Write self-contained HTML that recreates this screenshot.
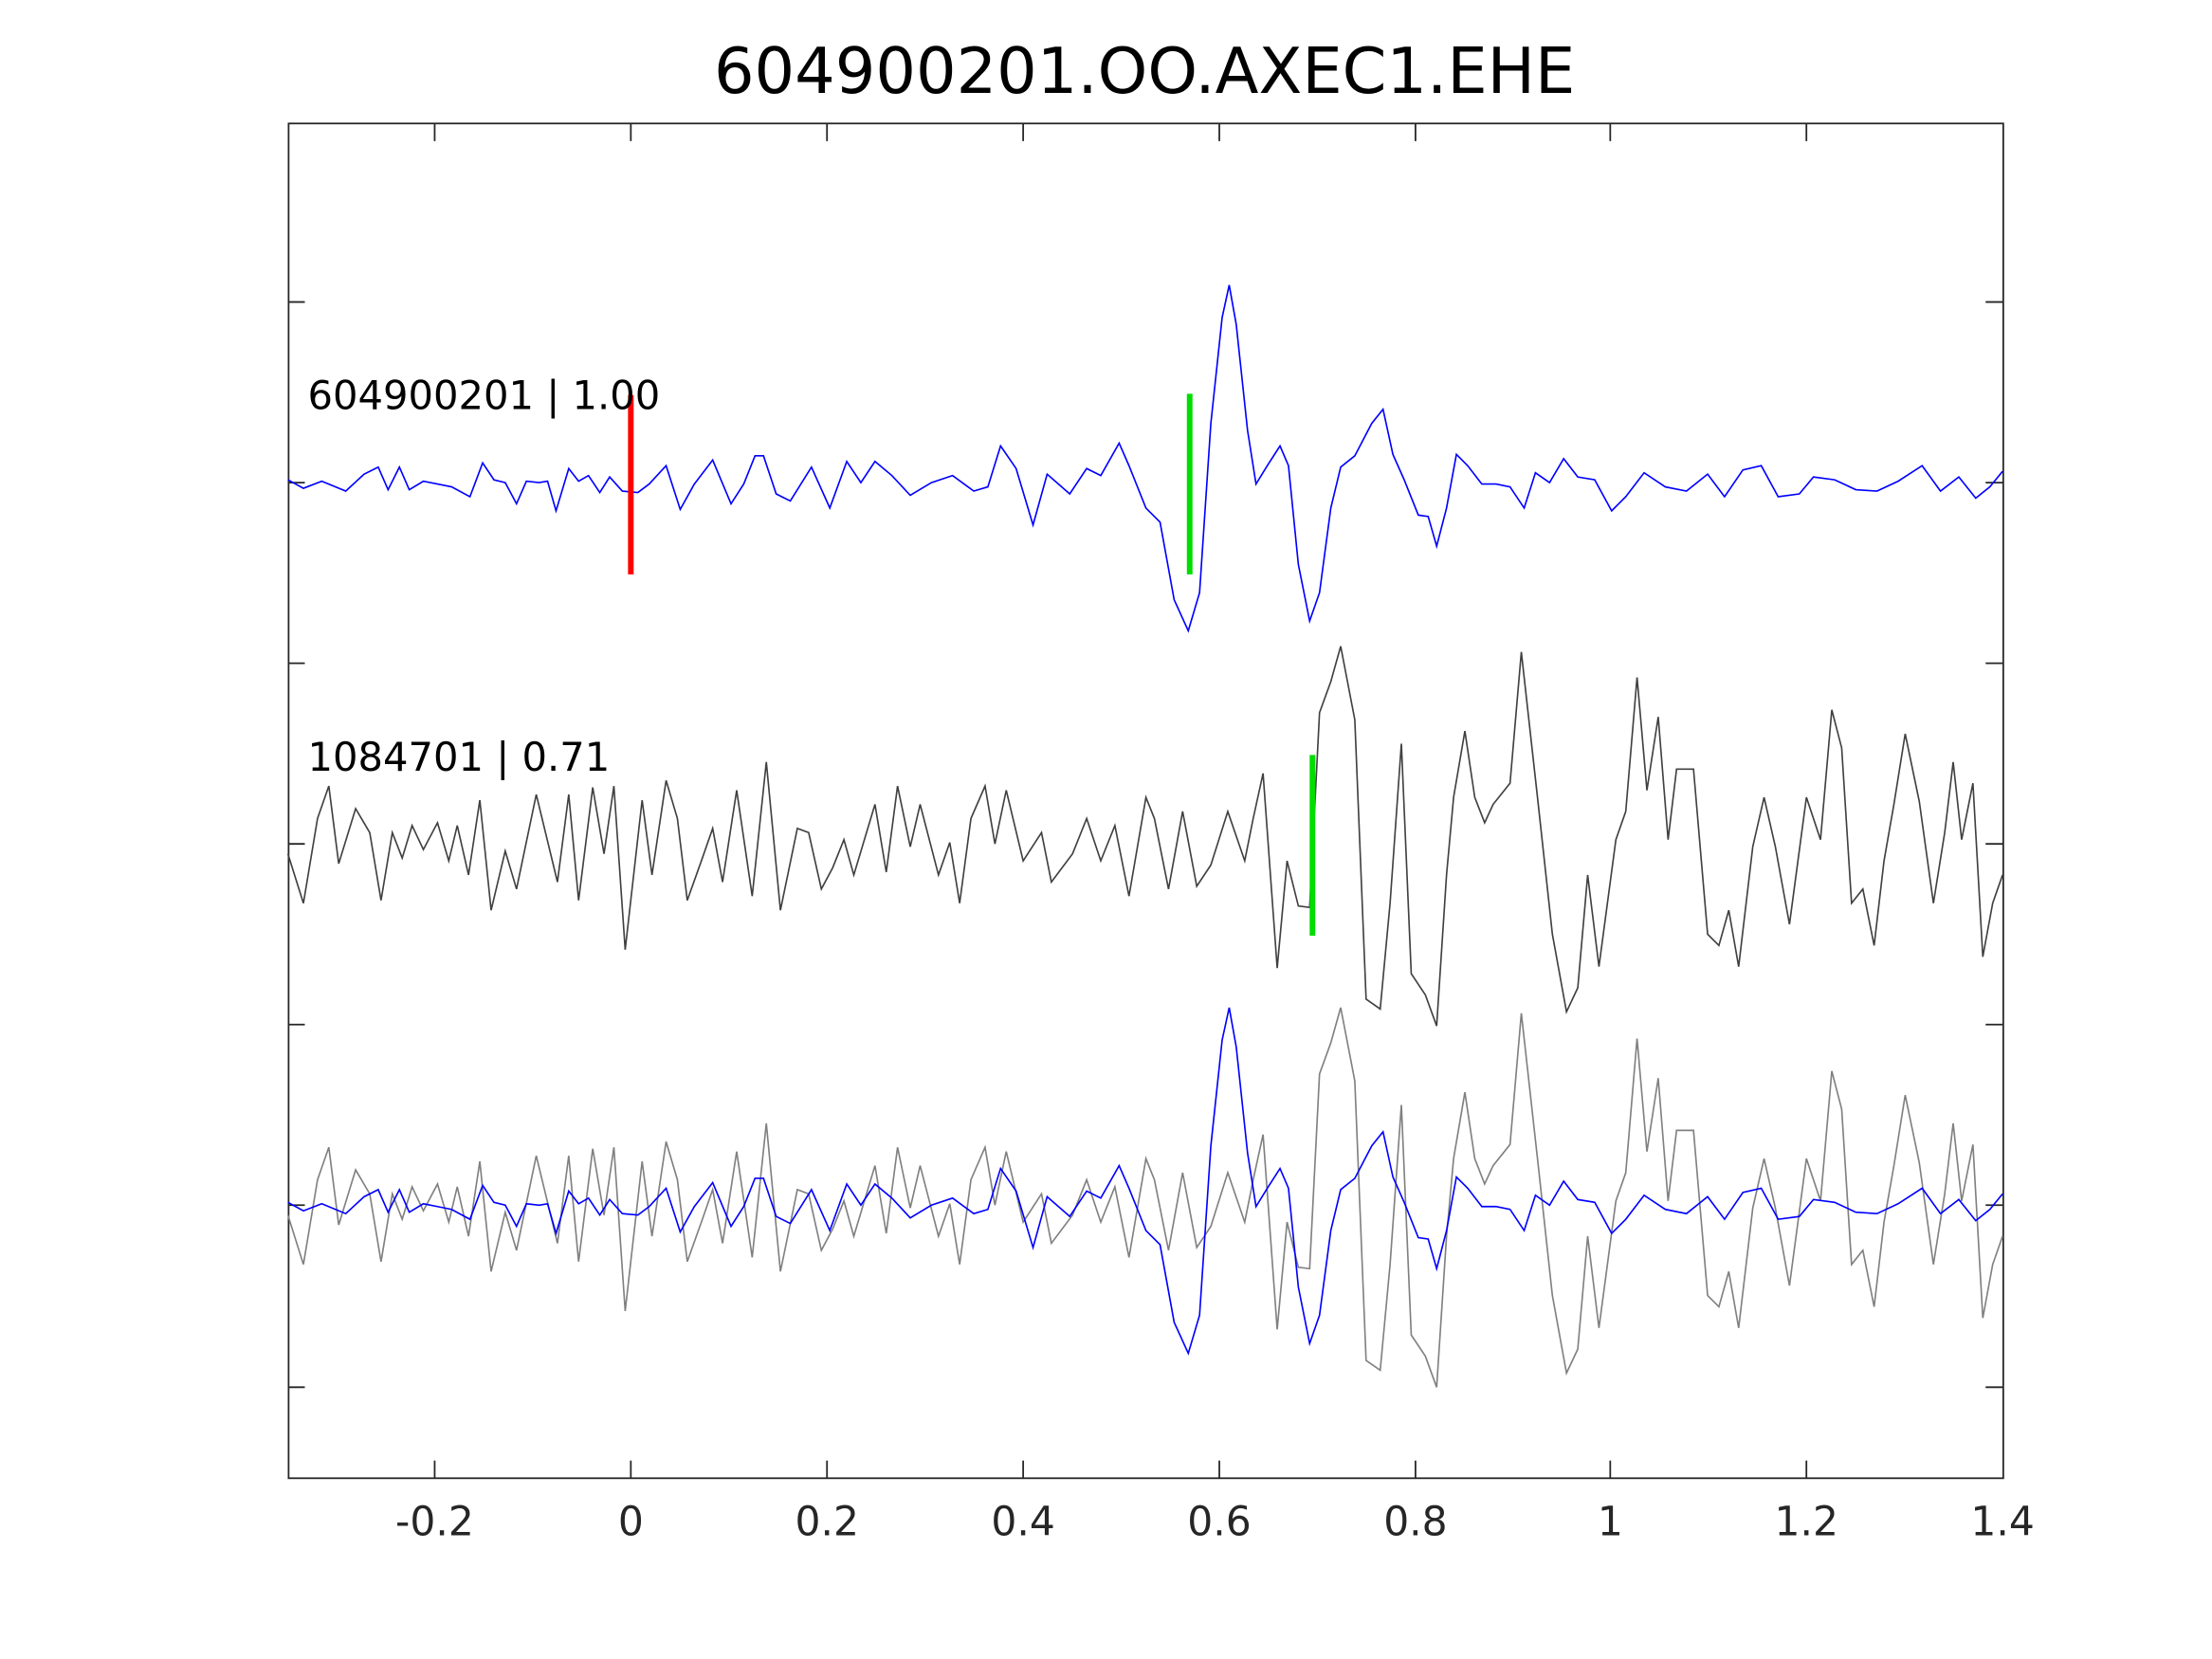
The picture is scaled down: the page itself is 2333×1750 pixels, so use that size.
<!DOCTYPE html>
<html><head><meta charset="utf-8"><style>
html,body{margin:0;padding:0;background:#fff;}
svg{display:block;}
text{font-family:"DejaVu Sans","Liberation Sans",sans-serif;}
</style></head><body>
<svg width="2333" height="1750" viewBox="0 0 1567.4 1175.6" preserveAspectRatio="none" xmlns="http://www.w3.org/2000/svg">
<defs>
<polyline id="t1" fill="none" points="204,340 215,346 228,341 245,348 258,336 268,331 275,347 283,331 290,347 300,341 310,343 320,345 333,352 342,328 350,340 358,342 366,357 373,341 382,342 388,341 394,362 403,332 410,341 417,337 425,349 432,338 441,348 452,349 460,343 472,330 482,361 492,343 505,326 518,357 527,343 535,323 541,323 550,350 560,355 575,331 588,360 600,327 610,342 620,327 632,337 645,351 660,342 675,337 690,348 700,345 709,316 720,332 732,372 742,336 758,350 770,332 780,337 793,314 800,330 812,360 822,370 832,425 842,447 850,420 858,300 866,225 871,202 876,230 884,305 890,343 898,330 907,316 913,330 920,400 928,440 935,420 943,360 950,331 960,323 972,300 980,290 987,322 995,340 1005,365 1012,366 1018,387 1025,360 1032,322 1040,330 1050,343 1060,343 1070,345 1080,360 1088,335 1098,342 1108,325 1118,338 1130,340 1142,362 1152,352 1165,335 1180,345 1195,348 1210,336 1222,352 1235,333 1248,330 1260,352 1275,350 1285,338 1300,340 1315,347 1330,348 1345,341 1362,330 1375,348 1388,338 1400,353 1410,345 1419,334"/>
<polyline id="t2" fill="none" points="204,605 215,640 225,580 233,557 240,612 252,573 262,590 270,638 278,590 285,608 292,585 300,602 310,583 318,610 324,585 332,620 340,567 348,645 358,603 366,630 380,563 395,625 403,563 410,638 420,558 428,605 435,557 443,673 455,567 462,620 472,553 480,580 487,638 497,610 505,587 512,625 522,560 533,635 543,540 553,645 565,587 573,590 582,630 590,615 598,595 605,620 620,570 628,618 636,557 645,600 652,570 665,620 673,597 680,640 688,580 698,557 705,598 713,560 725,610 738,590 745,625 760,605 770,580 780,610 790,585 800,635 812,565 818,580 828,630 838,575 848,628 858,613 870,575 882,610 888,580 895,548 905,686 912,610 920,642 928,643 935,505 943,483 950,458 960,510 968,708 978,715 985,640 993,527 1000,690 1010,705 1018,727 1025,620 1030,565 1038,518 1045,565 1052,583 1058,570 1070,555 1078,462 1090,570 1100,662 1110,717 1118,700 1125,620 1133,685 1145,595 1152,575 1160,480 1167,560 1175,508 1182,595 1188,545 1200,545 1210,662 1218,670 1225,645 1232,685 1242,600 1250,565 1258,600 1268,655 1280,565 1290,595 1298,503 1305,530 1312,640 1320,630 1328,670 1335,610 1342,570 1350,520 1360,568 1370,640 1378,590 1384,540 1390,595 1398,555 1405,678 1412,640 1419,620"/>
</defs>
<text x="811" y="66" font-size="45" text-anchor="middle" fill="#000">604900201.OO.AXEC1.EHE</text>
<rect x="204.5" y="87.5" width="1215" height="960" fill="none" stroke="#262626" stroke-width="1.2"/>
<g stroke="#262626" stroke-width="1.2">
<line x1="308" y1="1047" x2="308" y2="1035"/><line x1="447" y1="1047" x2="447" y2="1035"/><line x1="586" y1="1047" x2="586" y2="1035"/><line x1="725" y1="1047" x2="725" y2="1035"/><line x1="864" y1="1047" x2="864" y2="1035"/><line x1="1003" y1="1047" x2="1003" y2="1035"/><line x1="1141" y1="1047" x2="1141" y2="1035"/><line x1="1280" y1="1047" x2="1280" y2="1035"/>
<line x1="308" y1="88" x2="308" y2="100"/><line x1="447" y1="88" x2="447" y2="100"/><line x1="586" y1="88" x2="586" y2="100"/><line x1="725" y1="88" x2="725" y2="100"/><line x1="864" y1="88" x2="864" y2="100"/><line x1="1003" y1="88" x2="1003" y2="100"/><line x1="1141" y1="88" x2="1141" y2="100"/><line x1="1280" y1="88" x2="1280" y2="100"/>
<line x1="204" y1="214" x2="216" y2="214"/><line x1="204" y1="342" x2="216" y2="342"/><line x1="204" y1="470" x2="216" y2="470"/><line x1="204" y1="598" x2="216" y2="598"/><line x1="204" y1="726" x2="216" y2="726"/><line x1="204" y1="854" x2="216" y2="854"/><line x1="204" y1="983" x2="216" y2="983"/>
<line x1="1419" y1="214" x2="1407" y2="214"/><line x1="1419" y1="342" x2="1407" y2="342"/><line x1="1419" y1="470" x2="1407" y2="470"/><line x1="1419" y1="598" x2="1407" y2="598"/><line x1="1419" y1="726" x2="1407" y2="726"/><line x1="1419" y1="854" x2="1407" y2="854"/><line x1="1419" y1="983" x2="1407" y2="983"/>
</g>
<g font-size="28.5" fill="#262626" text-anchor="middle">
<text x="308" y="1088">-0.2</text><text x="447" y="1088">0</text><text x="586" y="1088">0.2</text><text x="725" y="1088">0.4</text><text x="864" y="1088">0.6</text><text x="1003" y="1088">0.8</text><text x="1141" y="1088">1</text><text x="1280" y="1088">1.2</text><text x="1419" y="1088">1.4</text>
</g>
<use href="#t1" stroke="#0000ff" stroke-width="1.1"/>
<use href="#t2" stroke="#404040" stroke-width="1.1"/>
<use href="#t2" stroke="#808080" stroke-width="1.1" transform="translate(0,256)"/>
<use href="#t1" stroke="#0000ff" stroke-width="1.1" transform="translate(0,512)"/>
<line x1="447" y1="280" x2="447" y2="407" stroke="#ff0000" stroke-width="4"/>
<line x1="843" y1="279" x2="843" y2="407" stroke="#00dd00" stroke-width="4"/>
<line x1="930" y1="535" x2="930" y2="663" stroke="#00dd00" stroke-width="4"/>
<text x="218" y="290" font-size="28" fill="#000">604900201 | 1.00</text>
<text x="218" y="546" font-size="28" fill="#000">1084701 | 0.71</text>
</svg>
</body></html>
